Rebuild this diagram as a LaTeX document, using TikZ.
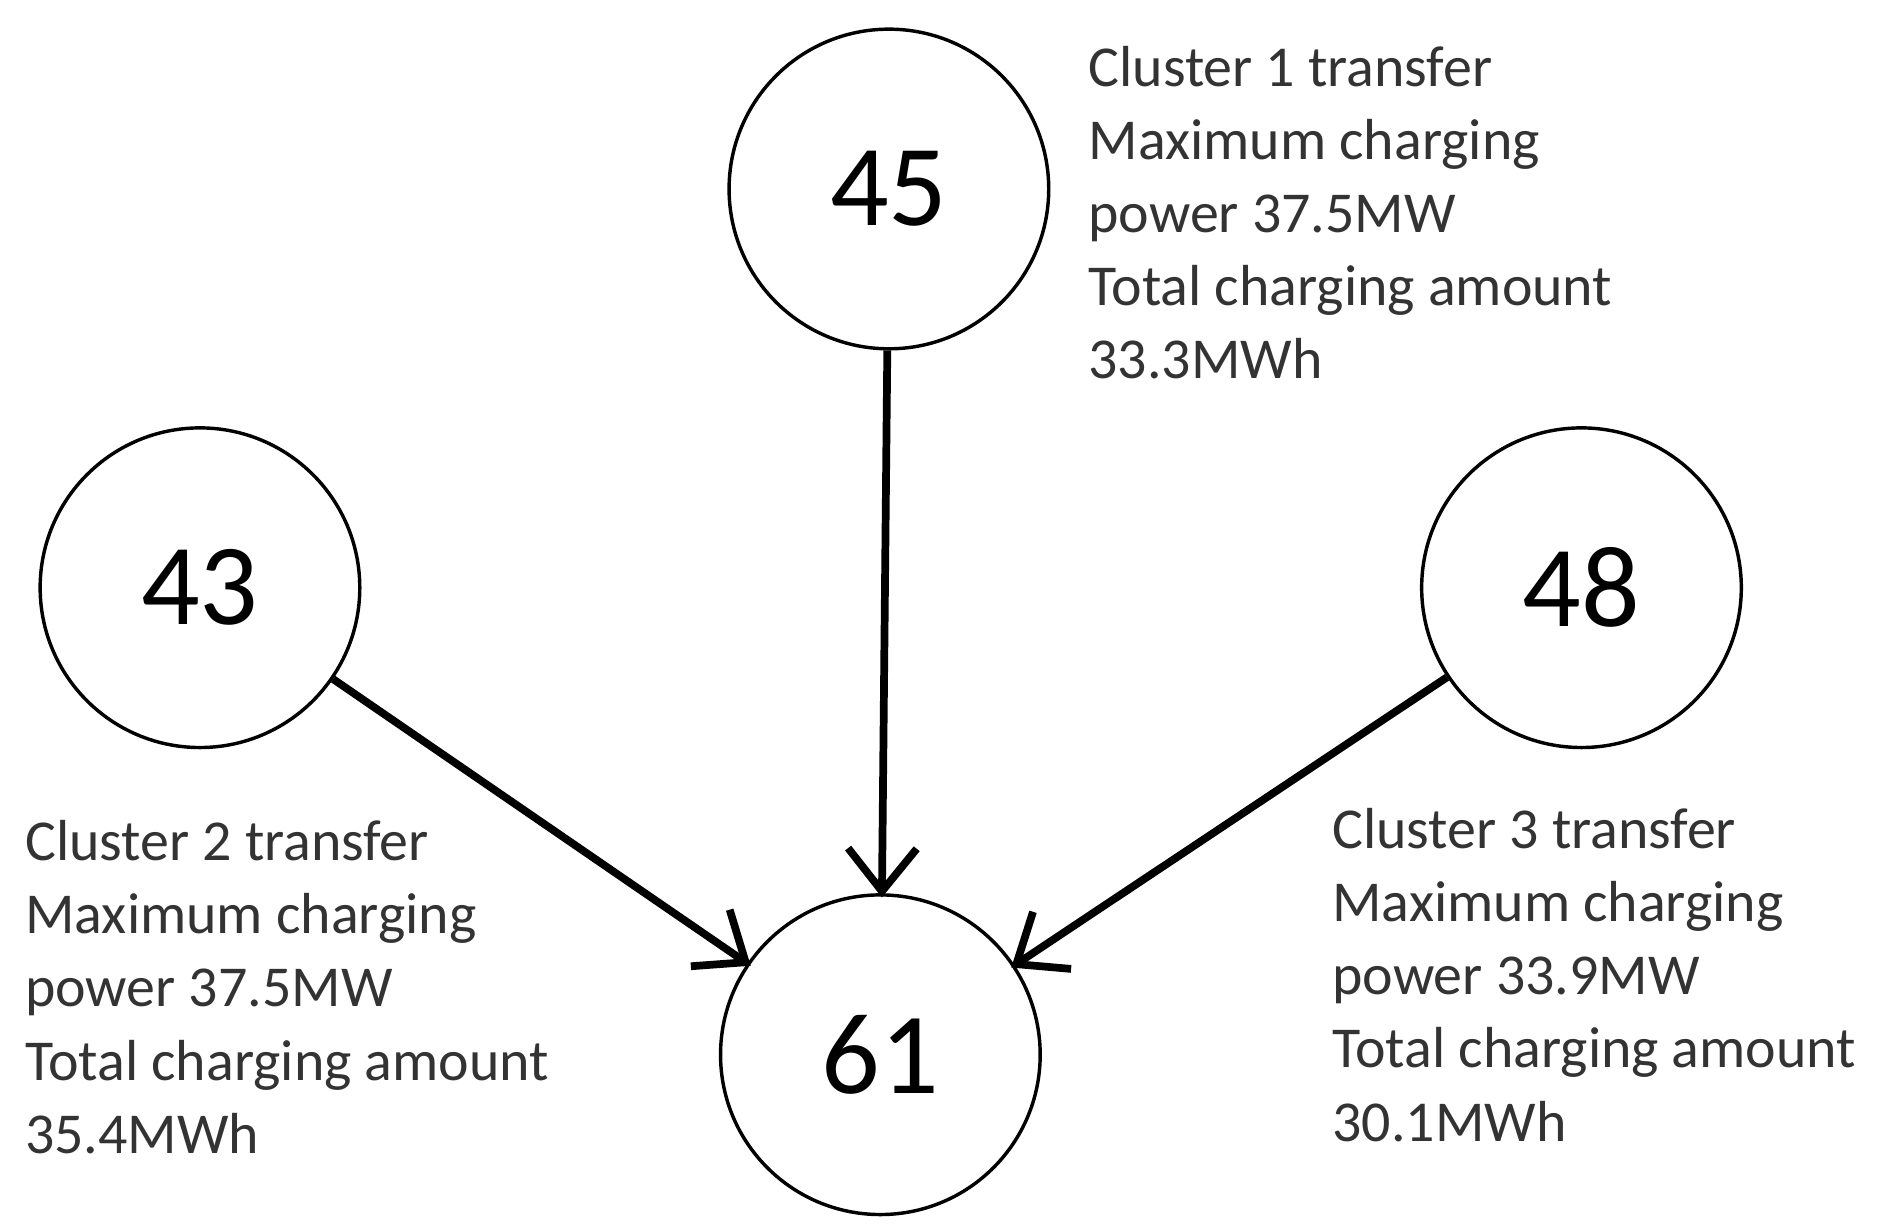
\documentclass[tikz,border=0pt]{standalone}
\usepackage{fontspec}
\setmainfont{Carlito}
\usetikzlibrary{arrows.meta}
\begin{document}
\begin{tikzpicture}[x=0.01cm,y=-0.01cm,
  circ/.style={circle,draw,line width=0.8pt,minimum size=2.62cm,inner sep=0pt,font=\fontsize{27}{30}\selectfont},
  lab/.style={anchor=north west,inner sep=0pt,align=left,text=black!80,font=\fontsize{13.5}{17.07}\selectfont},
  arr/.style={line width=1.8pt,shorten >=-1pt,-{Straight Barb[length=10pt,width=16pt,line width=1.8pt]}}]
\useasboundingbox (0,0) rectangle (1550,1010);
\begin{scope}[xshift=-0.08cm,yshift=0.05cm]
\node[circ] (n45) at (737,160) {45};
\node[circ] (n43) at (172,487) {43};
\node[circ] (n48) at (1305,487) {48};
\node[circ] (n61) at (730,870) {61};
\draw[arr] (n45) -- (n61);
\draw[arr] (n43) -- (n61);
\draw[arr] (n48) -- (n61);
\node[lab] (t1) at (900,42) {Cluster 1 transfer\\Maximum charging\\power 37.5MW\\Total charging amount\\33.3MWh};
\node[lab] (t2) at (28,677) {Cluster 2 transfer\\Maximum charging\\power 37.5MW\\Total charging amount\\35.4MWh};
\node[lab] (t3) at (1100,667) {Cluster 3 transfer\\Maximum charging\\power 33.9MW\\Total charging amount\\30.1MWh};
\end{scope}
\end{tikzpicture}
\end{document}
